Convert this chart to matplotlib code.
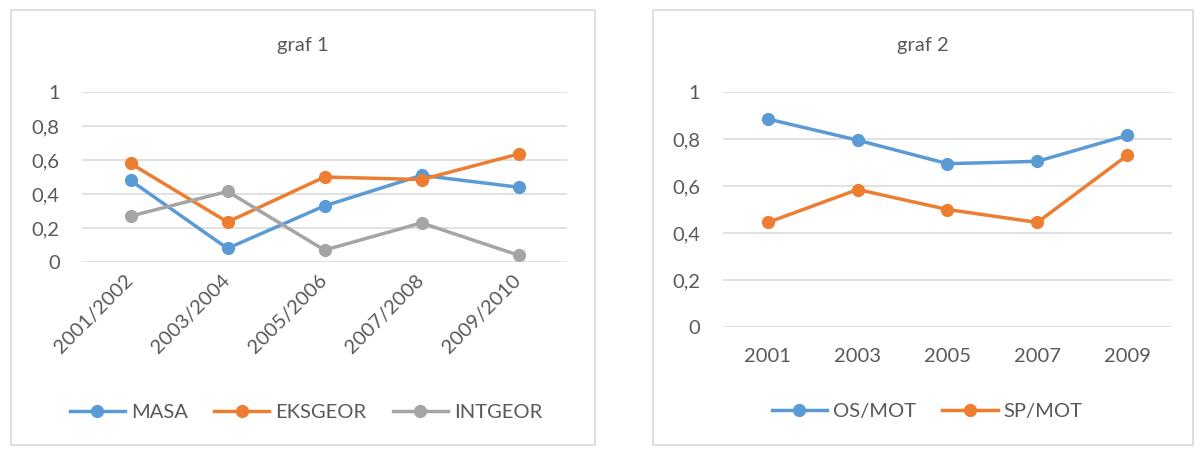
import matplotlib
matplotlib.use("Agg")
import matplotlib.pyplot as plt
from matplotlib.patches import Rectangle

plt.rcParams['font.family'] = ['Lato', 'DejaVu Sans']

# --- data -----------------------------------------------------------
periods_1 = ["2001/2002", "2003/2004", "2005/2006", "2007/2008", "2009/2010"]
masa = [0.48, 0.08, 0.33, 0.51, 0.44]
eksgeor = [0.58, 0.235, 0.50, 0.485, 0.635]
intgeor = [0.27, 0.415, 0.07, 0.23, 0.04]

years_2 = ["2001", "2003", "2005", "2007", "2009"]
os_mot = [0.885, 0.795, 0.695, 0.705, 0.815]
sp_mot = [0.445, 0.585, 0.50, 0.445, 0.73]

y_ticks = [0, 0.2, 0.4, 0.6, 0.8, 1]
y_tick_labels = ["0", "0,2", "0,4", "0,6", "0,8", "1"]

# --- style ----------------------------------------------------------
BLUE = "#5B9BD5"
ORANGE = "#ED7D31"
GREY = "#A5A5A5"
TEXT = "#595959"
GRID = "#D9D9D9"
FS = 14.5

W, H = 1195, 450
fig = plt.figure(figsize=(W / 100, H / 100), dpi=100)
fig.patch.set_facecolor("white")


def px_axes(x0, y0, x1, y1):
    """Axes placed by pixel box (top-left origin)."""
    return fig.add_axes([x0 / W, 1 - y1 / H, (x1 - x0) / W, (y1 - y0) / H])


def frame(x0, y0, x1, y1):
    fig.add_artist(Rectangle((x0 / W, 1 - y1 / H), (x1 - x0) / W, (y1 - y0) / H,
                             transform=fig.transFigure, fill=False,
                             edgecolor=GRID, linewidth=1.2))


def style_axes(ax, labels, ypad):
    n = len(labels)
    ax.set_xlim(-0.5, n - 0.5)
    ax.set_ylim(0, 1)
    ax.set_yticks(y_ticks)
    ax.set_yticklabels(y_tick_labels)
    ax.set_xticks(range(n))
    for s in ax.spines.values():
        s.set_visible(False)
    ax.tick_params(length=0, colors=TEXT, labelsize=FS)
    ax.tick_params(axis="y", pad=ypad)
    ax.grid(axis="y", color=GRID, linewidth=1.1)
    ax.set_axisbelow(True)


def draw(ax, values, color, label):
    ax.plot(range(len(values)), values, color=color, linewidth=2.5,
            marker="o", markersize=8.5, label=label, clip_on=False, zorder=3)


def legend(ax, x, y, ncol):
    leg = ax.legend(loc="center", bbox_to_anchor=(x / W, 1 - y / H),
                    bbox_transform=fig.transFigure, ncol=ncol, frameon=False,
                    fontsize=FS, handlelength=2.75, handletextpad=0.3,
                    columnspacing=1.3)
    for t in leg.get_texts():
        t.set_color(TEXT)
    return leg


# --- graf 1 ---------------------------------------------------------
frame(11, 10, 595, 445)
ax1 = px_axes(82, 92, 567, 262)
style_axes(ax1, periods_1, ypad=16)
ax1.set_xticklabels(periods_1, rotation=45, ha="right", va="center",
                    rotation_mode="anchor")
ax1.tick_params(axis="x", pad=11)
draw(ax1, masa, BLUE, "MASA")
draw(ax1, eksgeor, ORANGE, "EKSGEOR")
draw(ax1, intgeor, GREY, "INTGEOR")
fig.text(303 / W, 1 - 45 / H, "graf 1", ha="center", va="center",
         color=TEXT, fontsize=FS)
legend(ax1, 306, 412, 3)

# --- graf 2 ---------------------------------------------------------
frame(653, 10, 1193, 445)
ax2 = px_axes(723, 92, 1172, 327)
style_axes(ax2, years_2, ypad=16.5)
ax2.set_xticklabels(years_2)
ax2.tick_params(axis="x", pad=15)
draw(ax2, os_mot, BLUE, "OS/MOT")
draw(ax2, sp_mot, ORANGE, "SP/MOT")
fig.text(923 / W, 1 - 45 / H, "graf 2", ha="center", va="center",
         color=TEXT, fontsize=FS)
legend(ax2, 927, 411, 2)

fig.savefig("out.png", dpi=100, facecolor="white")
